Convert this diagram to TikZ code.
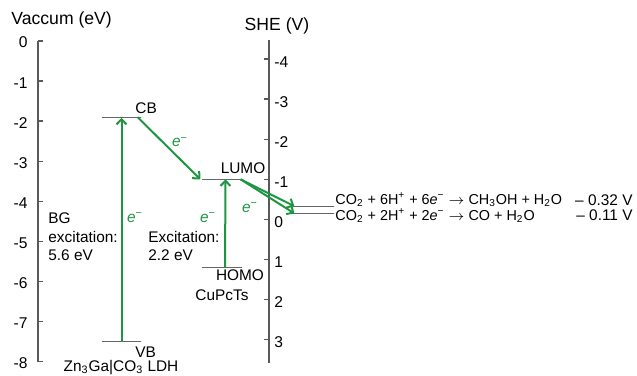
\documentclass[tikz,border=0pt]{standalone}
\usepackage{fontspec}
\setmainfont{Liberation Sans}
\usepackage{xcolor}
\usetikzlibrary{arrows.meta, calc}

\definecolor{egreen}{RGB}{30,150,65}
\newcommand{\elec}{\textit{e}\textsuperscript{−}}

\begin{document}
\begin{tikzpicture}[
        x=0.5pt, y=20.05pt,
        font=\fontsize{7.7}{9.2}\selectfont,
        every node/.style={inner sep=0pt},
        axisline/.style={draw=black!65, line width=0.7pt},
        level/.style={rectangle, draw=black!60, line width=0.6pt,
                      minimum height=0pt, inner sep=0pt},
        eflow/.style={-{Straight Barb[length=2.6pt, width=5pt]}, line width=1pt, draw=egreen},
        elbl/.style={text=egreen},
        axtitle/.style={font=\fontsize{8.8}{10}\selectfont},
        ticklbl/.style={font=\fontsize{7.8}{9}\selectfont},
        rxn/.style={font=\fontsize{7.2}{8}\selectfont, anchor=west}
    ]
        \useasboundingbox (0,1.0224) rectangle (637,-8.354);

        % Vacuum scale (eV)
        \node[axtitle, anchor=west] (vactitle) at (11,0.52) {Vaccum (eV)};
        \draw[axisline] (38,0) -- (38,-8);
        \foreach \v in {0,-1,-2,-3,-4,-5,-6,-7,-8} {
            \draw[axisline] (38,\v) -- ++(5,0);
            \node[ticklbl, anchor=east] (vac\v) at (28,{\v-0.04}) {\v};
        }

        % SHE scale (V)
        \node[axtitle] (shetitle) at (277,0.38) {SHE (V)};
        \draw[axisline] (269,0.02) -- (269,-8.03);
        \foreach \v in {-4,...,3} {
            \draw[axisline] (269,{-4.45-(\v)}) -- ++(-5,0);
            \node[ticklbl, anchor=west] (she\v) at (274,{-4.52-(\v)}) {\v};
        }

        % Zn3Ga|CO3 LDH bands
        \node[level, minimum width=19.5pt] (cb) at (121.5,-1.9) {};
        \node[level, minimum width=19.5pt] (vb) at (121.5,-7.5) {};
        \node[anchor=west] (cblbl) at (135,-1.67) {CB};
        \node[anchor=west] (vblbl) at (135,-7.76) {VB};
        \node (ldh) at (121,-8.15) {Zn\textsubscript{3}Ga|CO\textsubscript{3} LDH};
        \node[anchor=west, align=left] (bg) at (48,-4.89) {BG\\excitation:\\5.6 eV};

        % CuPcTs levels
        \node[level, minimum width=20.5pt] (lumo) at (222.5,-3.45) {};
        \node[level, minimum width=20pt] (homo) at (222,-5.65) {};
        \node (lumolbl) at (243,-3.17) {LUMO};
        \node (homolbl) at (240,-5.84) {HOMO};
        \node (cupc) at (222,-6.33) {CuPcTs};
        \node[anchor=west, align=left] (exc) at (148,-5.11) {Excitation:\\2.2 eV};

        % CO2 reduction potentials
        \node[level, minimum width=20.5pt] (meoh) at (313.5,-4.12) {};
        \node[level, minimum width=20.5pt] (co) at (313.5,-4.30) {};
        \node[rxn] (meohrx) at (335,-3.95)
            {CO\textsubscript{2} + 6H\textsuperscript{+} + 6\elec{} $\rightarrow$ CH\textsubscript{3}OH + H\textsubscript{2}O};
        \node[rxn] (corx) at (335,-4.36)
            {CO\textsubscript{2} + 2H\textsuperscript{+} + 2\elec{} $\rightarrow$ CO + H\textsubscript{2}O};
        \node[anchor=east] (meohpot) at (633,-3.97) {– 0.32 V};
        \node[anchor=east] (copot) at (633,-4.34) {– 0.11 V};

        % --- electron transfer ---
        \draw[eflow] (vb) -- (cb);
        \draw[eflow] ($(cb.east)+(-4,0)$) -- ($(lumo.west)+(-1,0)$);
        \draw[eflow] ($(homo)+(3,0)$) -- ($(lumo)+(3,0)$);
        \draw[eflow] ($(lumo.east)+(-3,0)$) -- ($(meoh.west)+(2,0)$);
        \draw[eflow] ($(lumo.east)+(-3,0)$) -- ($(co.west)+(2,0)$);

        \node[elbl] (e1) at (135,-4.41) {\elec};
        \node[elbl] (e2) at (180,-2.52) {\elec};
        \node[elbl] (e3) at (208,-4.41) {\elec};
        \node[elbl] (e4) at (250,-4.16) {\elec};
    \end{tikzpicture}
\end{document}
